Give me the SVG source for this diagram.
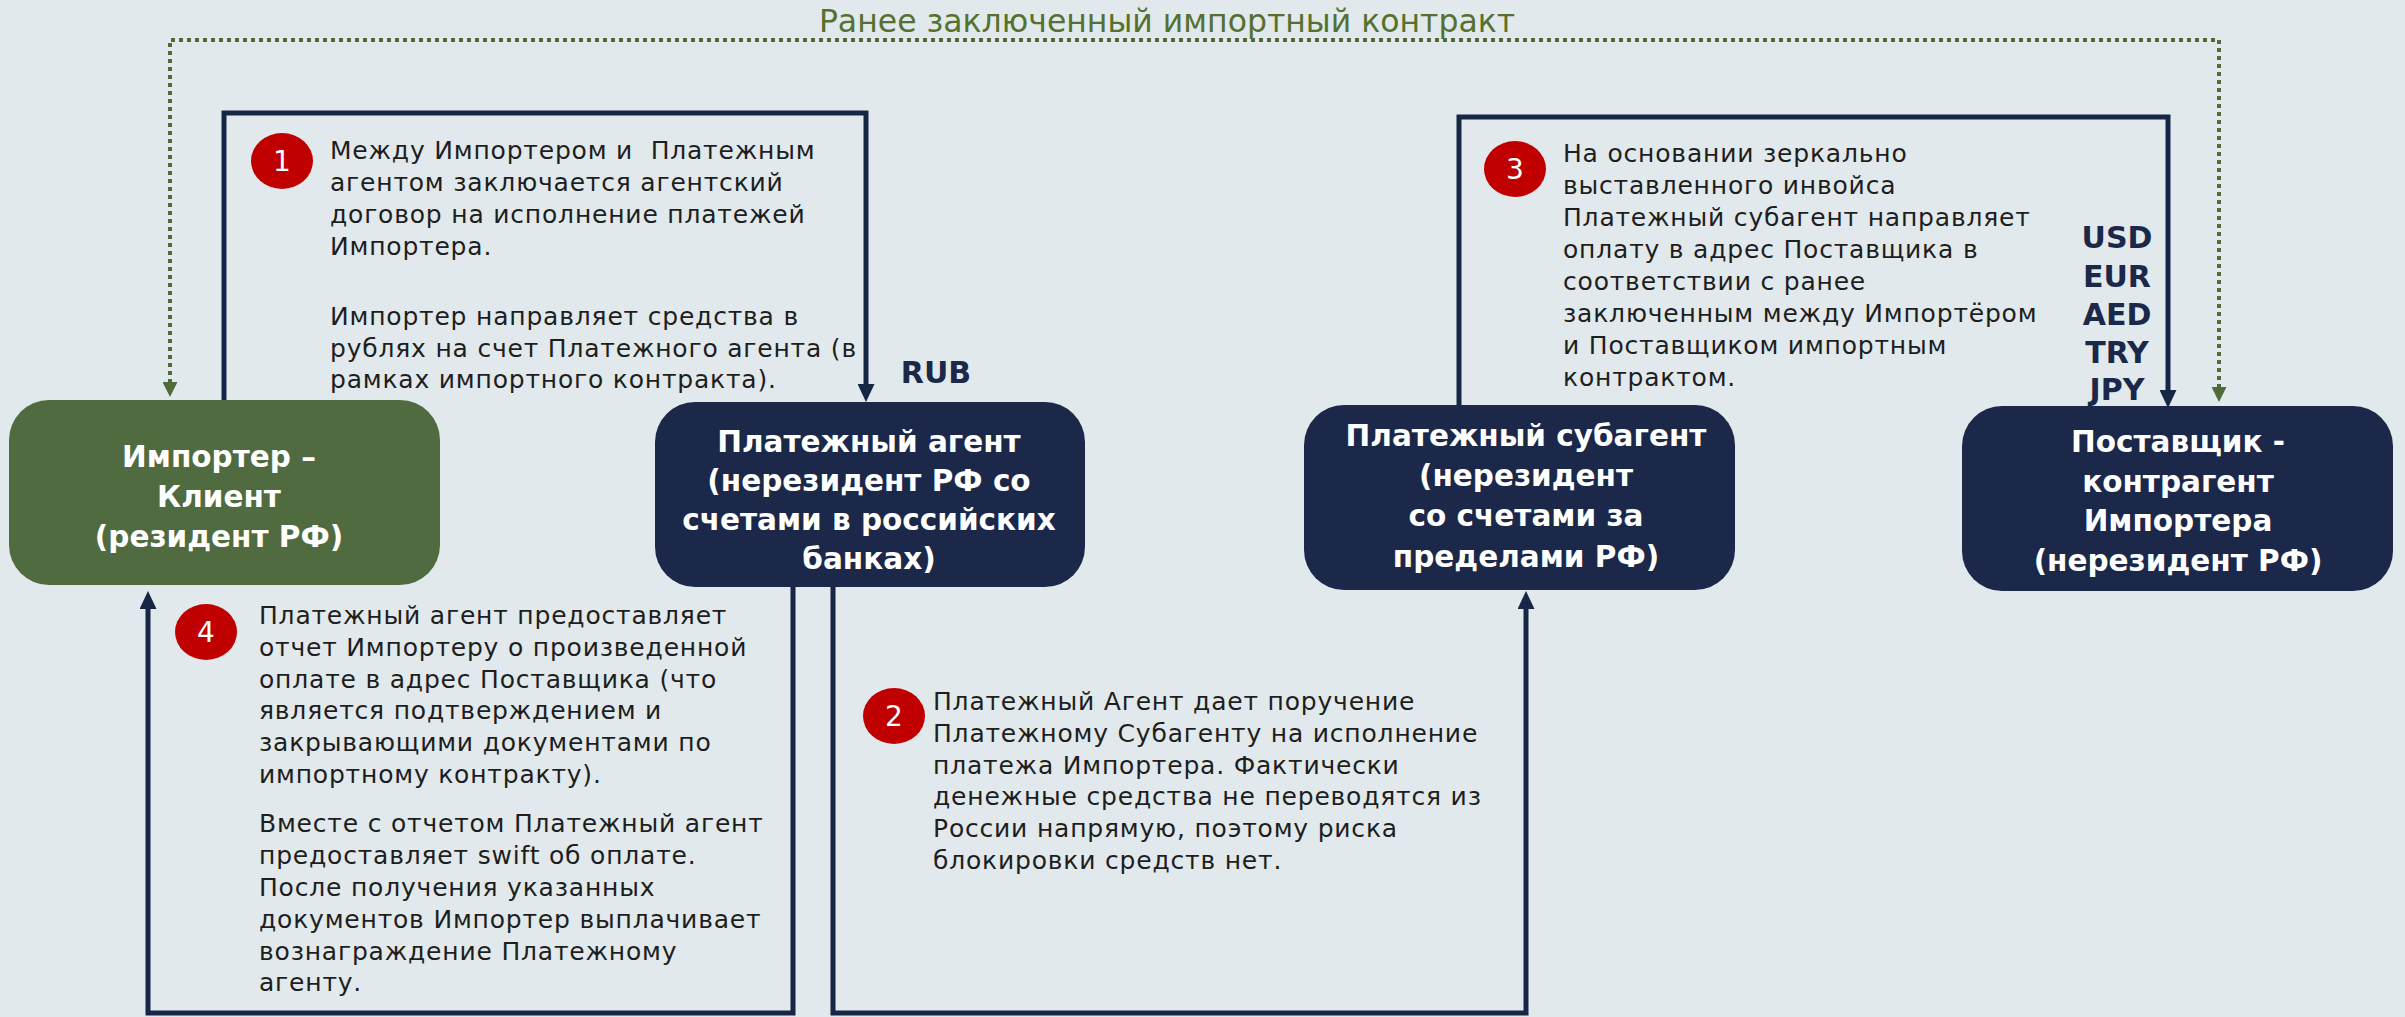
<svg xmlns="http://www.w3.org/2000/svg" width="2405" height="1017" viewBox="0 0 2405 1017">
<style>
.bg{fill:#E1E9EC}
.node-green{fill:#506B40}
.node-navy{fill:#1B2849}
.ntext{font-family:"DejaVu Sans","Liberation Sans",sans-serif;font-weight:bold;font-size:29.5px;fill:#FFFFFF;text-anchor:middle}
.body{font-family:"DejaVu Sans","Liberation Sans",sans-serif;font-size:25px;fill:#1E1E1E;letter-spacing:0.8px;white-space:pre}
.title{font-family:"DejaVu Sans","Liberation Sans",sans-serif;font-size:31.5px;fill:#56702F;text-anchor:middle}
.cur{font-family:"DejaVu Sans","Liberation Sans",sans-serif;font-weight:bold;font-size:30px;fill:#1B2849;text-anchor:middle}
.badge{fill:#C00000}
.badgenum{font-family:"DejaVu Sans","Liberation Sans",sans-serif;font-size:28px;fill:#FFFFFF;text-anchor:middle}
.flow{fill:none;stroke:#162745;stroke-width:5;marker-end:url(#arr)}
.contract{fill:none;stroke:#4F6B3A;stroke-width:4;stroke-dasharray:4 4;marker-start:url(#garr);marker-end:url(#garr)}
</style>
<defs>
<marker id="arr" markerUnits="userSpaceOnUse" markerWidth="18" markerHeight="17" refX="2" refY="8.5" orient="auto">
<path d="M0,0 L18,8.5 L0,17 z" fill="#162745"/>
</marker>
<marker id="garr" markerUnits="userSpaceOnUse" markerWidth="15" markerHeight="15" refX="1" refY="7.5" orient="auto-start-reverse">
<path d="M0,0 L15,7.5 L0,15 z" fill="#4F6B3A"/>
</marker>
</defs>
<rect class="bg" x="0" y="0" width="2405" height="1017"/>

<text class="title" x="1167" y="32">Ранее заключенный импортный контракт</text>

<g id="connectors">
<path class="contract" d="M170,383 V40 H2219 V388"/>
<path id="c1" class="flow" d="M224,401 V113 H866 V386"/>
<path id="c3" class="flow" d="M1459,406 V117 H2168 V392"/>
<path id="c2" class="flow" d="M833,586 V1013 H1526 V607"/>
<path id="c4" class="flow" d="M793,586 V1013 H148 V607"/>
</g>

<g id="importer">
<rect class="node-green" x="9" y="400" width="431" height="185" rx="40"/>
<text class="ntext" x="219" y="467">Импортер –</text>
<text class="ntext" x="219" y="507">Клиент</text>
<text class="ntext" x="219" y="547">(резидент РФ)</text>
</g>

<g id="agent">
<rect class="node-navy" x="655" y="402" width="430" height="185" rx="40"/>
<text class="ntext" x="869" y="452">Платежный агент</text>
<text class="ntext" x="869" y="491">(нерезидент РФ со</text>
<text class="ntext" x="869" y="530">счетами в российских</text>
<text class="ntext" x="869" y="569">банках)</text>
</g>

<g id="subagent">
<rect class="node-navy" x="1304" y="405" width="431" height="185" rx="40"/>
<text class="ntext" x="1526" y="446">Платежный субагент</text>
<text class="ntext" x="1526" y="486">(нерезидент</text>
<text class="ntext" x="1526" y="526">со счетами за</text>
<text class="ntext" x="1526" y="567">пределами РФ)</text>
</g>

<g id="supplier">
<rect class="node-navy" x="1962" y="406" width="431" height="185" rx="40"/>
<text class="ntext" x="2178" y="452">Поставщик -</text>
<text class="ntext" x="2178" y="492">контрагент</text>
<text class="ntext" x="2178" y="531">Импортера</text>
<text class="ntext" x="2178" y="571">(нерезидент РФ)</text>
</g>

<g id="step1">
<ellipse class="badge" cx="282" cy="161" rx="31" ry="28"/>
<text class="badgenum" x="282" y="171">1</text>
<text class="body" x="330" y="159">Между Импортером и  Платежным</text>
<text class="body" x="330" y="191">агентом заключается агентский</text>
<text class="body" x="330" y="223">договор на исполнение платежей</text>
<text class="body" x="330" y="255">Импортера.</text>
<text class="body" x="330" y="325">Импортер направляет средства в</text>
<text class="body" x="330" y="357">рублях на счет Платежного агента (в</text>
<text class="body" x="330" y="388">рамках импортного контракта).</text>
</g>

<g id="step2">
<ellipse class="badge" cx="894" cy="716" rx="31" ry="28"/>
<text class="badgenum" x="894" y="726">2</text>
<text class="body" x="933" y="710">Платежный Агент дает поручение</text>
<text class="body" x="933" y="742">Платежному Субагенту на исполнение</text>
<text class="body" x="933" y="774">платежа Импортера. Фактически</text>
<text class="body" x="933" y="805">денежные средства не переводятся из</text>
<text class="body" x="933" y="837">России напрямую, поэтому риска</text>
<text class="body" x="933" y="869">блокировки средств нет.</text>
</g>

<g id="step3">
<ellipse class="badge" cx="1515" cy="169" rx="31" ry="28"/>
<text class="badgenum" x="1515" y="179">3</text>
<text class="body" x="1563" y="162">На основании зеркально</text>
<text class="body" x="1563" y="194">выставленного инвойса</text>
<text class="body" x="1563" y="226">Платежный субагент направляет</text>
<text class="body" x="1563" y="258">оплату в адрес Поставщика в</text>
<text class="body" x="1563" y="290">соответствии с ранее</text>
<text class="body" x="1563" y="322">заключенным между Импортёром</text>
<text class="body" x="1563" y="354">и Поставщиком импортным</text>
<text class="body" x="1563" y="386">контрактом.</text>
</g>

<g id="step4">
<ellipse class="badge" cx="206" cy="632" rx="31" ry="28"/>
<text class="badgenum" x="206" y="642">4</text>
<text class="body" x="259" y="624">Платежный агент предоставляет</text>
<text class="body" x="259" y="656">отчет Импортеру о произведенной</text>
<text class="body" x="259" y="688">оплате в адрес Поставщика (что</text>
<text class="body" x="259" y="719">является подтверждением и</text>
<text class="body" x="259" y="751">закрывающими документами по</text>
<text class="body" x="259" y="783">импортному контракту).</text>
<text class="body" x="259" y="832">Вместе с отчетом Платежный агент</text>
<text class="body" x="259" y="864">предоставляет swift об оплате.</text>
<text class="body" x="259" y="896">После получения указанных</text>
<text class="body" x="259" y="928">документов Импортер выплачивает</text>
<text class="body" x="259" y="960">вознаграждение Платежному</text>
<text class="body" x="259" y="991">агенту.</text>
</g>

<g id="currencies">
<text class="cur" x="936" y="383">RUB</text>
<text class="cur" x="2117" y="248">USD</text>
<text class="cur" x="2117" y="287">EUR</text>
<text class="cur" x="2117" y="325">AED</text>
<text class="cur" x="2117" y="363">TRY</text>
<text class="cur" x="2117" y="400">JPY</text>
</g>
</svg>
